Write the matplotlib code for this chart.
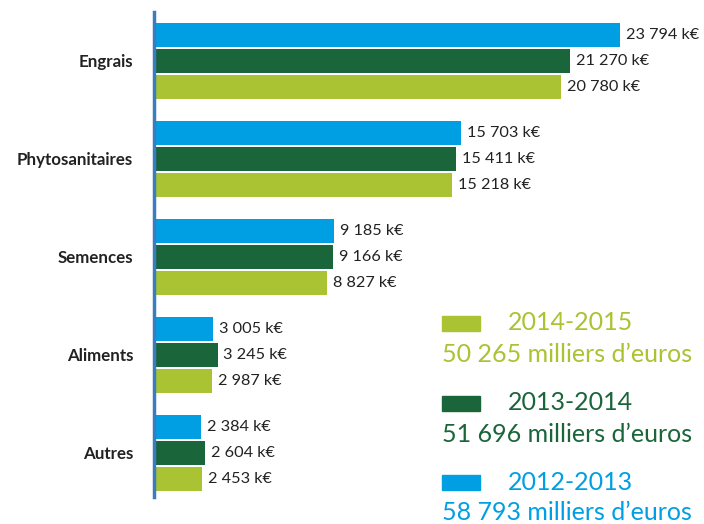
import matplotlib.pyplot as plt
import matplotlib.patches as mpatches
import numpy as np

plt.rcParams['font.family'] = ['Lato', 'DejaVu Sans']

# Donnees (k€)
categories = ['Engrais', 'Phytosanitaires', 'Semences', 'Aliments', 'Autres']
v_2012 = [23794, 15703, 9185, 3005, 2384]
v_2013 = [21270, 15411, 9166, 3245, 2604]
v_2014 = [20780, 15218, 8827, 2987, 2453]
periodes = ['2012-2013', '2013-2014', '2014-2015']
totaux = ['58 793 milliers d\u2019euros', '51 696 milliers d\u2019euros', '50 265 milliers d\u2019euros']

c_blue = '#009FE3'
c_dark = '#1A653A'
c_lime = '#A9C332'
couleurs = [c_blue, c_dark, c_lime]

def fmt(v):
    return '{:,}'.format(v).replace(',', ' ') + ' k\u20ac'

fig = plt.figure(figsize=(7.04, 5.24), dpi=100)
ax = fig.add_axes([154/704, 27/524, 550/704, 485/524])

y = -np.arange(len(categories))
h = 0.245
off = 0.265
series = [v_2012, v_2013, v_2014]
for k, (vals, col) in enumerate(zip(series, couleurs)):
    yy = y + off*(1-k)
    ax.barh(yy, vals, height=h, color=col)
    for yi, v in zip(yy, vals):
        ax.text(v + 300, yi, fmt(v), va='center', ha='left', fontsize=11.7, color='#222222')

ax.set_xlim(0, 28090)
ax.set_ylim(-4.45, 0.5)
ax.set_yticks(y)
ax.set_yticklabels(categories, fontsize=12.2, fontweight='bold', color='#222222')
ax.tick_params(axis='y', length=0, pad=15)
ax.set_xticks([])
for s in ['top', 'right', 'bottom']:
    ax.spines[s].set_visible(False)
ax.spines['left'].set_color('#3A7CC0')
ax.spines['left'].set_linewidth(2.5)

# Legende
leg = [(2, 323, 355), (1, 403, 435), (0, 482, 513)]
for k, yt, yb in leg:
    col = couleurs[k]
    fig.patches.append(mpatches.Rectangle((442/704, 1 - (yt+8)/524), 38/704, 15/524,
                                          transform=fig.transFigure, color=col))
    fig.text(508/704, 1 - yt/524, periodes[k], color=col, fontsize=18,
             va='center', ha='left')
    fig.text(442/704, 1 - yb/524, totaux[k], color=col, fontsize=18,
             va='center', ha='left')

plt.savefig('out.png', dpi=100)
